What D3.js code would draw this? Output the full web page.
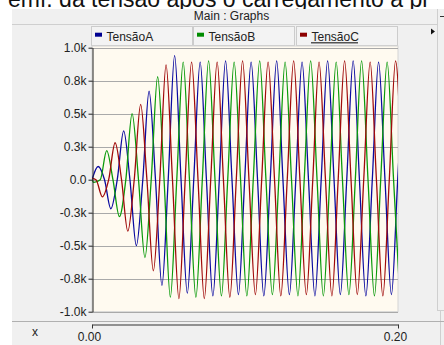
<!DOCTYPE html>
<html>
<head>
<meta charset="utf-8">
<script src="https://cdn.jsdelivr.net/npm/d3@7"></script>
<style>
  html, body { margin: 0; padding: 0; background: #fff; }
  svg { display: block; font-family: Arial, "Liberation Sans", sans-serif; }
</style>
</head>
<body>
<svg id="chart" width="444" height="345"></svg>
<script>
// series names + colours
const seriesNames = ['TensãoA', 'TensãoB', 'TensãoC'];
const seriesColors = ['#0a0aa0', '#0a9a0a', '#a00a0a'];
const swatchColors = ['#000090', '#008c00', '#8c0000'];

// [time (ms), voltage (k)]: peaks/troughs and zero crossings
const tensaoA = [[0,0],[4.0,0.10],[8.2,0],[12.3,-0.22],[16.5,0],[20.7,0.37],[24.8,0],[29.0,-0.50],[33.2,0],[37.3,0.67],
  [41.5,0],[45.7,-0.80],[49.8,0],[54.0,0.94],[58.2,0],[62.3,-0.86],[66.5,0],[70.7,0.89],[74.8,0],[79.0,-0.88],
  [83.2,0],[87.3,0.90],[91.5,0],[95.7,-0.87],[99.8,0],[104.0,0.89],[108.2,0],[112.3,-0.88],[116.5,0],[120.7,0.90],
  [124.8,0],[129.0,-0.87],[133.2,0],[137.3,0.89],[141.5,0],[145.7,-0.88],[149.8,0],[154.0,0.90],[158.2,0],[162.3,-0.87],
  [166.5,0],[170.7,0.90],[174.8,0],[179.0,-0.88],[183.2,0],[187.3,0.89],[191.5,0],[195.7,-0.87],[199.8,0],[204.0,0.89]];

const tensaoB = [[0,0],[1.2,-0.02],[5.4,0],[9.6,0.22],[13.7,0],[17.9,-0.28],[22.1,0],[26.2,0.50],[30.4,0],[34.6,-0.59],
  [38.7,0],[42.9,0.78],[47.1,0],[51.2,-0.89],[55.4,0],[59.6,0.89],[63.7,0],[67.9,-0.89],[72.1,0],[76.2,0.90],
  [80.4,0],[84.6,-0.88],[88.7,0],[92.9,0.89],[97.1,0],[101.2,-0.88],[105.4,0],[109.6,0.90],[113.7,0],[117.9,-0.87],
  [122.1,0],[126.2,0.89],[130.4,0],[134.6,-0.88],[138.7,0],[142.9,0.90],[147.1,0],[151.2,-0.88],[155.4,0],[159.6,0.89],
  [163.7,0],[167.9,-0.87],[172.1,0],[176.2,0.90],[180.4,0],[184.6,-0.88],[188.7,0],[192.9,0.89],[197.1,0],[201.2,-0.88]];

const tensaoC = [[0,0.01],[2.6,0],[6.8,-0.13],[10.9,0],[15.1,0.28],[19.3,0],[23.4,-0.39],[27.6,0],[31.8,0.57],[35.9,0],
  [40.1,-0.69],[44.3,0],[48.4,0.87],[52.6,0],[56.8,-0.90],[60.9,0],[65.1,0.89],[69.3,0],[73.4,-0.90],[77.6,0],
  [81.8,0.89],[85.9,0],[90.1,-0.89],[94.3,0],[98.4,0.90],[102.6,0],[106.8,-0.87],[110.9,0],[115.1,0.89],[119.3,0],
  [123.4,-0.88],[127.6,0],[131.8,0.90],[135.9,0],[140.1,-0.87],[144.3,0],[148.4,0.89],[152.6,0],[156.8,-0.88],[160.9,0],
  [165.1,0.90],[169.3,0],[173.4,-0.87],[177.6,0],[181.8,0.89],[185.9,0],[190.1,-0.88],[194.3,0],[198.4,0.90],[202.6,0]];

// axes
const yTicks = [-1, -0.75, -0.5, -0.25, 0, 0.25, 0.5, 0.75, 1];
const yTickLabels = ['-1.0k', '-0.8k', '-0.5k', '-0.3k', '0.0', '0.3k', '0.5k', '0.8k', '1.0k'];
const xTicks = [0, 200];
const xTickLabels = ['0.00', '0.20'];

const svg = d3.select('#chart');
const plot = {left: 92, right: 398, top: 47.7, bottom: 311.7};

const x = d3.scaleLinear().domain([0, 200]).range([plot.left, plot.right]);
const y = d3.scaleLinear().domain([-1, 1]).range([plot.bottom, plot.top]);

// caption cut off at the top of the screenshot (panel hides its lower part)
svg.append('text').attr('x', 8).attr('y', 7)
  .attr('font-size', 23).attr('fill', '#111')
  .text('emf. da tensão após o carregamento a pl');

// window panel
svg.append('rect').attr('x', 12).attr('y', 9).attr('width', 432).attr('height', 336).attr('fill', '#f0f0f0');
svg.append('line').attr('x1', 12).attr('x2', 437).attr('y1', 24.5).attr('y2', 24.5).attr('stroke', '#cfcfcf');
svg.append('line').attr('x1', 437.5).attr('x2', 437.5).attr('y1', 9).attr('y2', 310).attr('stroke', '#cfcfcf');
svg.append('line').attr('x1', 440.5).attr('x2', 440.5).attr('y1', 310).attr('y2', 345).attr('stroke', '#cfcfcf');
svg.append('line').attr('x1', 437).attr('x2', 444).attr('y1', 310.5).attr('y2', 310.5).attr('stroke', '#cfcfcf');
svg.append('line').attr('x1', 440).attr('x2', 444).attr('y1', 16.5).attr('y2', 16.5).attr('stroke', '#333');
svg.append('text').attr('x', 231.5).attr('y', 20).attr('text-anchor', 'middle')
  .attr('font-size', 12).attr('fill', '#222').text('Main : Graphs');

// legend tabs
const tabs = svg.append('g');
const tabX = [91, 193, 296];
seriesNames.forEach((name, i) => {
  const g = tabs.append('g').attr('transform', `translate(${tabX[i]},26)`);
  g.append('rect').attr('x', 0.5).attr('y', 0.5).attr('width', 101).attr('height', 19)
    .attr('fill', '#f3f3f3').attr('stroke', '#cccccc');
  g.append('rect').attr('x', 4).attr('y', 6.7).attr('width', 7).attr('height', 4).attr('fill', swatchColors[i]);
  g.append('text').attr('x', 15.5).attr('y', 14.5).attr('font-size', 12).attr('fill', '#222').text(name);
});
svg.append('line').attr('x1', 311).attr('x2', 358).attr('y1', 42.8).attr('y2', 42.8)
  .attr('stroke', '#555').attr('stroke-width', 1.6);
svg.append('path').attr('d', 'M431,28.5 L435,31.5 L431,34.5 Z').attr('fill', '#111');

// plot background
svg.append('rect').attr('x', plot.left).attr('y', 46)
  .attr('width', plot.right - plot.left).attr('height', plot.bottom - 46)
  .attr('fill', '#fffaf0').attr('stroke', '#d4d4d4');

// grid
svg.append('g').selectAll('line').data(yTicks).join('line')
  .attr('x1', plot.left).attr('x2', plot.right)
  .attr('y1', d => Math.round(y(d)) + 0.5).attr('y2', d => Math.round(y(d)) + 0.5)
  .attr('stroke', '#a9a9a9');

// waveforms
svg.append('clipPath').attr('id', 'clip').append('rect')
  .attr('x', plot.left).attr('y', 46).attr('width', plot.right - plot.left).attr('height', plot.bottom - 46);

const line = d3.line().x(d => x(d[0])).y(d => y(d[1])).curve(d3.curveMonotoneX);
const curves = svg.append('g').attr('clip-path', 'url(#clip)');
[tensaoA, tensaoB, tensaoC].forEach((s, i) => {
  curves.append('path').datum(s).attr('d', line)
    .attr('fill', 'none').attr('stroke', seriesColors[i]).attr('stroke-width', 1.3);
});

// y axis
const yAxis = svg.append('g').attr('transform', `translate(${plot.left + 0.5},0)`)
  .call(d3.axisLeft(y).tickValues(yTicks).tickFormat((d, i) => yTickLabels[i])
    .tickSize(4).tickSizeOuter(0).tickPadding(2));
yAxis.selectAll('path, line').attr('stroke', '#222');
yAxis.selectAll('text').attr('font-size', 12).attr('fill', '#222').attr('font-family', 'Arial, "Liberation Sans", sans-serif');

// x axis strip
svg.append('line').attr('x1', 12).attr('x2', 444).attr('y1', 321.5).attr('y2', 321.5).attr('stroke', '#b0b0b0');
const xAxis = svg.append('g').attr('transform', 'translate(0,324.5)')
  .call(d3.axisBottom(x).tickValues(xTicks).tickFormat((d, i) => xTickLabels[i])
    .tickSize(4).tickSizeOuter(0).tickPadding(4));
xAxis.selectAll('path, line').attr('stroke', '#333');
xAxis.selectAll('text').attr('font-size', 12).attr('fill', '#222').attr('dx', -3)
  .attr('font-family', 'Arial, "Liberation Sans", sans-serif');
svg.append('text').attr('x', 35).attr('y', 336).attr('text-anchor', 'middle')
  .attr('font-size', 12).attr('fill', '#222').text('x');
</script>
</body>
</html>
